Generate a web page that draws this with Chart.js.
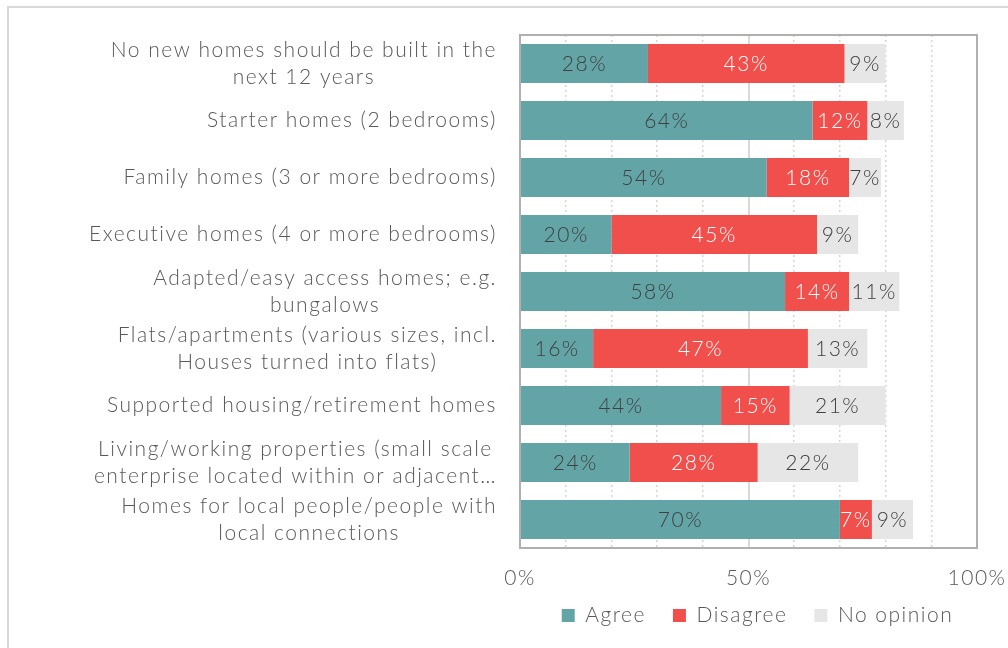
<!DOCTYPE html>
<html>
<head>
<meta charset="utf-8">
<script src="https://cdn.jsdelivr.net/npm/chart.js@4.4.1/dist/chart.umd.min.js"></script>
<style>
  body { margin: 0; background: #fff; }
  #marco { position: absolute; left: 7px; top: 6px; width: 1100px; height: 700px; border: 2px solid #d9d9d9; }
  #caja { position: absolute; left: 0; top: 0; width: 1008px; height: 648px; }
</style>
</head>
<body>
<div id="marco"></div>
<div id="caja"><canvas id="GraficoViviendas"></canvas></div>
<script>
'use strict'

const categorias = [
  ['No new homes should be built in the', 'next 12 years'],
  'Starter homes (2 bedrooms)',
  'Family homes (3 or more bedrooms)',
  'Executive homes (4 or more bedrooms)',
  ['Adapted/easy access homes; e.g.', 'bungalows'],
  ['Flats/apartments (various sizes, incl.', 'Houses turned into flats)'],
  'Supported housing/retirement homes',
  ['Living/working properties (small scale', 'enterprise located within or adjacent…'],
  ['Homes for local people/people with', 'local connections']
];
const agree = [28, 64, 54, 20, 58, 16, 44, 24, 70];
const disagree = [43, 12, 18, 45, 14, 47, 15, 28, 7];
const noOpinion = [9, 8, 7, 9, 11, 13, 21, 22, 9];
const ticksX = [0, 50, 100];

const fuente = 'Lato';
const espaciado = '1.5px';
const colorTexto = '#595959';
const colorEtiqueta = ['#404040', '#ffffff', '#404040'];

const divGrafico = document.querySelector('#GraficoViviendas');

// Lato is narrower than the original font, open it up a bit
const espaciadoLetras = {
  id: 'espaciadoLetras',
  beforeUpdate(chart) { chart.ctx.letterSpacing = espaciado; },
  beforeLayout(chart) { chart.ctx.letterSpacing = espaciado; },
  beforeDraw(chart) { chart.ctx.letterSpacing = espaciado; }
};

// labels of each bar, in the middle of the segment
const etiquetasBarras = {
  id: 'etiquetasBarras',
  afterDatasetsDraw(chart) {
    const ctx = chart.ctx;
    ctx.save();
    ctx.letterSpacing = espaciado;
    ctx.font = '300 21px ' + fuente;
    ctx.textAlign = 'center';
    ctx.textBaseline = 'middle';
    chart.data.datasets.forEach((ds, i) => {
      chart.getDatasetMeta(i).data.forEach((bar, j) => {
        const p = bar.getProps(['x', 'y', 'base'], true);
        ctx.fillStyle = colorEtiqueta[i];
        ctx.fillText(ds.data[j] + '%', (p.x + p.base) / 2, p.y + 1);
      });
    });
    ctx.restore();
  }
};

// category labels: block right aligned, lines centred
const etiquetasEje = {
  id: 'etiquetasEje',
  afterDraw(chart) {
    const ctx = chart.ctx;
    const escala = chart.scales.y;
    const derecha = chart.chartArea.left - 23;
    ctx.save();
    ctx.letterSpacing = espaciado;
    ctx.font = '300 21px ' + fuente;
    ctx.fillStyle = colorTexto;
    ctx.textAlign = 'center';
    ctx.textBaseline = 'middle';
    categorias.forEach((cat, i) => {
      const lineas = Array.isArray(cat) ? cat : [cat];
      const ancho = Math.max(...lineas.map(l => ctx.measureText(l).width));
      const cx = derecha - ancho / 2;
      const cy = escala.getPixelForTick(i);
      lineas.forEach((l, k) => {
        ctx.fillText(l, cx, cy + (k - (lineas.length - 1) / 2) * 27);
      });
    });
    ctx.restore();
  }
};

// box around the plot area
const marcoGrafico = {
  id: 'marcoGrafico',
  beforeDatasetsDraw(chart) {
    const a = chart.chartArea;
    const ctx = chart.ctx;
    ctx.save();
    ctx.strokeStyle = '#b0b0b0';
    ctx.lineWidth = 2;
    ctx.strokeRect(a.left, a.top, a.right - a.left, a.bottom - a.top);
    ctx.restore();
  }
};

// legend centred under the plot area
const leyendaCentrada = {
  id: 'leyendaCentrada',
  afterLayout(chart) {
    const l = chart.legend;
    const a = chart.chartArea;
    const centro = (a.left + a.right) / 2 + 9;
    l.left = centro - 320;
    l.right = centro + 320;
    l.top = a.bottom + 30;
    l.bottom = l.top + l.height;
  }
};

const data = {
  labels: categorias,
  datasets: [
    { label: 'Agree', data: agree, backgroundColor: '#63a5a7' },
    { label: 'Disagree', data: disagree, backgroundColor: '#f04f4c' },
    { label: 'No opinion', data: noOpinion, backgroundColor: '#e6e6e6' }
  ]
};

const config = {
  type: 'bar',
  data,
  options: {
    indexAxis: 'y',
    responsive: true,
    maintainAspectRatio: false,
    animation: false,
    barPercentage: 0.68,
    categoryPercentage: 1,
    layout: { padding: { top: 35, right: 31, left: 0, bottom: 0 } },
    scales: {
      x: {
        stacked: true,
        min: 0,
        max: 100,
        afterFit: s => { s.height = 42; s.paddingLeft = 0; s.paddingRight = 0; },
        ticks: {
          stepSize: 50,
          padding: 18,
          color: colorTexto,
          font: { family: fuente, size: 21, weight: 300 },
          callback: v => ticksX.includes(v) ? v + '%' : ''
        },
        grid: {
          drawTicks: false,
          lineWidth: 2,
          color: c => c.tick && c.tick.value === 50 ? '#d9d9d9' : 'transparent'
        },
        border: { display: false }
      },
      xg: {
        type: 'linear',
        position: 'bottom',
        min: 0,
        max: 100,
        afterFit: s => { s.height = 0; s.paddingLeft = 0; s.paddingRight = 0; },
        ticks: { display: false, stepSize: 10, autoSkip: false },
        grid: {
          drawTicks: false,
          lineWidth: 1.5,
          color: c => c.tick && c.tick.value % 50 === 0 ? 'transparent' : '#d6d6d6'
        },
        border: { display: false, dash: [2, 3] }
      },
      y: {
        stacked: true,
        afterFit: s => { s.width = 520; },
        ticks: { display: false },
        grid: { display: false },
        border: { display: false }
      }
    },
    plugins: {
      tooltip: { enabled: false },
      legend: {
        position: 'bottom',
        labels: {
          boxWidth: 13,
          boxHeight: 13,
          padding: 27,
          color: colorTexto,
          font: { family: fuente, size: 21, weight: 300 }
        }
      }
    }
  },
  plugins: [espaciadoLetras, etiquetasBarras, etiquetasEje, marcoGrafico, leyendaCentrada]
};

const GraficoViviendas = new Chart(divGrafico, config);
</script>
</body>
</html>
